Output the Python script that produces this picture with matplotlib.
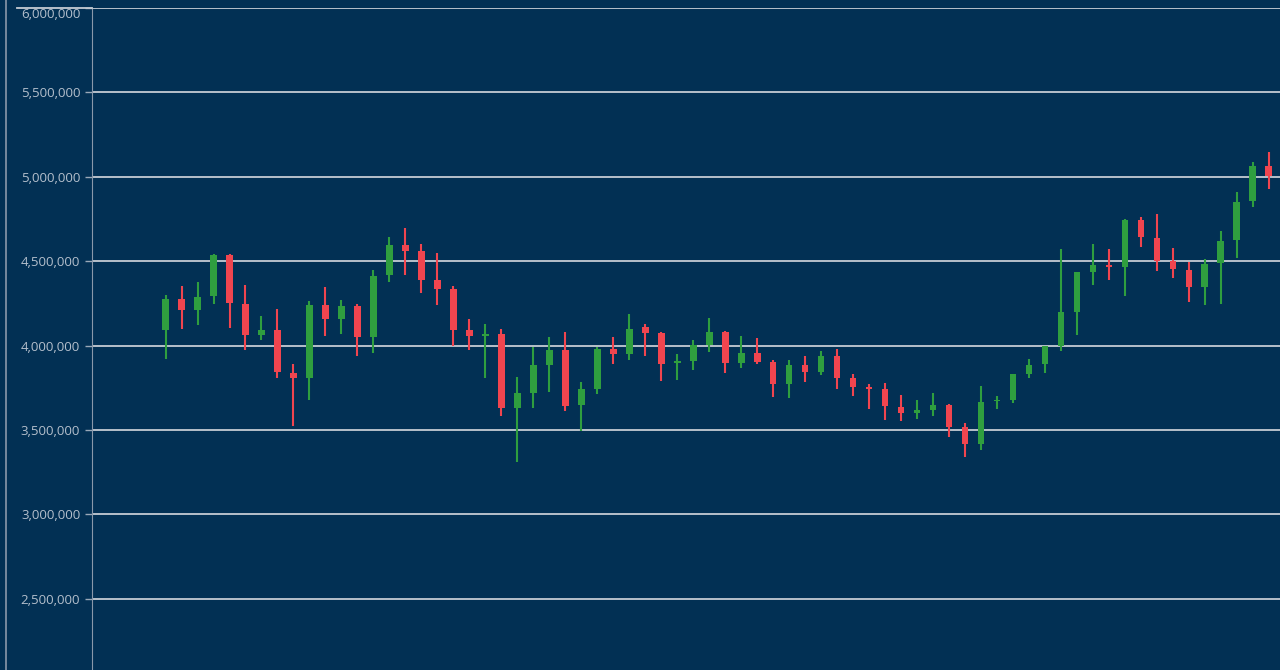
import matplotlib.pyplot as plt
from matplotlib.lines import Line2D
from matplotlib.ticker import FuncFormatter

plt.rcParams['font.family'] = ['Open Sans', 'DejaVu Sans']

# prices in thousands
opens = [4091, 4278, 4213, 4292, 4537, 4249, 4061, 4095, 3840, 3806,
         4243, 4160, 4237, 4049, 4416, 4594, 4559, 4389, 4336, 4091,
         4058, 4071, 3629, 3720, 3886, 3975, 3646, 3745, 3980, 3953,
         4108, 4073, 3898, 3909, 4006, 4081, 3898, 3957, 3903, 3775,
         3887, 3842, 3937, 3808, 3755, 3743, 3639, 3599, 3621, 3646,
         3518, 3415, 3670, 3678, 3834, 3889, 4000, 4201, 4434, 4478,
         4464, 4742, 4638, 4504, 4450, 4348, 4490, 4624, 4855, 5062]
closes = [4278, 4213, 4290, 4537, 4251, 4061, 4095, 3842, 3806, 4243,
          4160, 4237, 4049, 4410, 4594, 4561, 4391, 4336, 4091, 4055,
          4069, 3629, 3720, 3883, 3975, 3645, 3743, 3980, 3953, 4101,
          4073, 3892, 3907, 4002, 4081, 3898, 3957, 3901, 3775, 3887,
          3842, 3937, 3810, 3757, 3745, 3640, 3599, 3621, 3646, 3518,
          3415, 3668, 3680, 3832, 3887, 4000, 4200, 4434, 4480, 4466,
          4745, 4642, 4502, 4452, 4348, 4486, 4618, 4851, 5062, 5003]
highs = [4302, 4351, 4377, 4543, 4543, 4357, 4174, 4217, 3893, 4267,
         4345, 4273, 4249, 4450, 4644, 4697, 4602, 4547, 4351, 4158,
         4129, 4099, 3815, 3992, 4049, 4079, 3785, 3990, 4053, 4188,
         4130, 4079, 3951, 4036, 4164, 4085, 4059, 4047, 3913, 3917,
         3937, 3966, 3980, 3834, 3775, 3779, 3706, 3676, 3717, 3656,
         3542, 3759, 3700, 3832, 3919, 4000, 4570, 4434, 4600, 4570,
         4751, 4760, 4778, 4576, 4498, 4515, 4681, 4911, 5086, 5147]
lows = [3921, 4099, 4120, 4245, 4102, 3976, 4031, 3806, 3526, 3678,
        4055, 4067, 3939, 3957, 4379, 4419, 4312, 4243, 4000, 3976,
        3806, 3585, 3311, 3629, 3726, 3615, 3496, 3714, 3892, 3915,
        3941, 3789, 3799, 3854, 3964, 3838, 3866, 3892, 3696, 3688,
        3787, 3824, 3743, 3700, 3627, 3562, 3556, 3568, 3581, 3459,
        3337, 3384, 3625, 3661, 3805, 3836, 3970, 4061, 4360, 4391,
        4292, 4585, 4444, 4403, 4261, 4239, 4247, 4520, 4823, 4928]

bg = "#023054"
up = "#2f9e3f"
down = "#f0454f"
grid_c = "#c5ccd4"

fig = plt.figure(figsize=(12.8, 6.7), dpi=100, facecolor=bg)
ax = fig.add_axes([92 / 1280, 0, 1 - 92 / 1280, 662 / 670])
ax.set_facecolor(bg)

for i in range(len(opens)):
    o, c = opens[i] * 1000, closes[i] * 1000
    h, l = highs[i] * 1000, lows[i] * 1000
    col = up if c >= o else down
    ax.vlines(i, l, h, color=col, linewidth=1.5, zorder=3)
    lo_b, hi_b = min(o, c), max(o, c)
    ax.bar(i, max(hi_b - lo_b, 8000), width=0.42, bottom=lo_b, color=col, zorder=3)

ax.set_xlim(-4.6, 69.7)
ax.set_ylim(2078000, 6000000)
ax.set_yticks(range(2500000, 6000001, 500000))
ax.yaxis.set_major_formatter(FuncFormatter(lambda v, p: f"{int(v):,}"))
ax.grid(axis="y", color=grid_c, linewidth=1.3)
ax.set_axisbelow(True)
ax.set_xticks([])
ax.tick_params(axis="y", colors="#9aa8b8", labelcolor="#b4bfcc", labelsize=9.5, length=5, width=1)
for s in ["top", "right", "bottom"]:
    ax.spines[s].set_visible(False)
ax.spines["left"].set_color("#8a98aa")
top_lbl = ax.get_yticklabels()[-1]
top_lbl.set_va("top")
top_lbl.set_y(5975000)

fig.add_artist(Line2D([6 / 1280, 6 / 1280], [0, 1], color="#8a98aa", linewidth=1.2))
fig.add_artist(Line2D([17 / 1280, 92 / 1280], [662 / 670, 662 / 670], color=grid_c, linewidth=1.3))

fig.savefig("out.png", dpi=100, facecolor=bg)
